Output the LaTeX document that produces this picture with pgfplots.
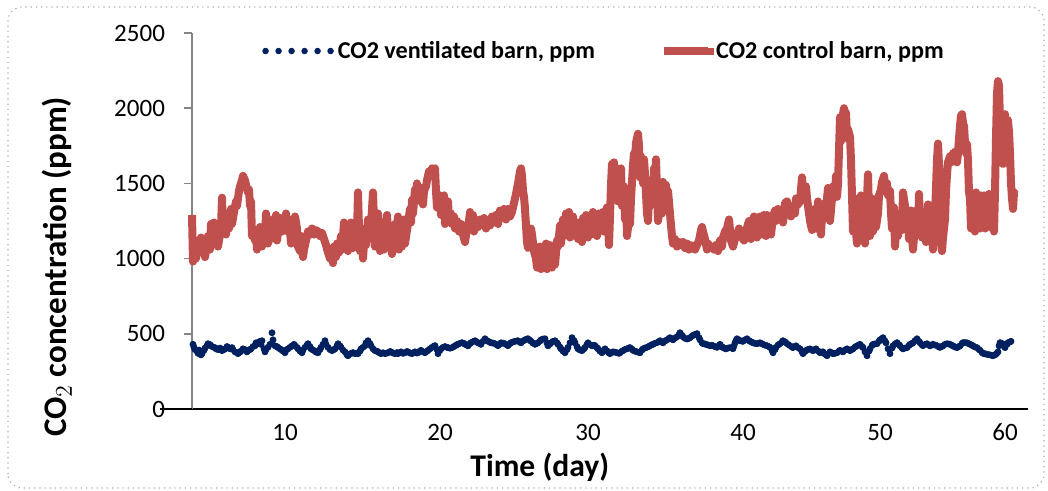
\documentclass[border=0pt]{standalone}
\usepackage{pgfplots}
\pgfplotsset{compat=1.18}
\usepackage{fontspec}
\setmainfont{Carlito}
\definecolor{redc}{RGB}{192,80,77}
\definecolor{bluec}{RGB}{0,32,96}
\definecolor{axgray}{RGB}{134,134,134}

\pgfplotstableread{
x y
193 430
194 410
195 395
197 385
198 370
199 392
200 380
201 360
202 368
204 390
205 405
207 420
208 434
210 428
211 420
213 412
215 408
216 400
218 395
220 405
222 388
224 395
225 400
227 415
228 410
230 400
232 408
233 395
235 380
237 375
238 368
240 378
241 385
243 400
245 395
247 380
248 388
250 395
251 400
253 415
255 420
256 440
258 434
259 445
260 450
261 430
262 454
264 400
265 380
266 395
268 410
270 430
272 507
273 460
275 420
277 415
278 408
280 400
281 395
283 385
285 374
286 392
288 400
290 410
292 420
294 430
295 421
297 410
298 400
300 385
302 374
303 392
305 410
307 425
308 434
310 415
311 400
313 392
315 385
316 378
318 374
320 395
321 410
323 430
325 454
326 430
328 410
330 395
332 388
334 395
335 400
337 420
338 434
340 420
341 410
343 392
345 380
347 360
348 354
350 365
351 370
353 375
355 368
357 372
358 368
360 385
361 400
363 410
365 420
366 440
368 454
370 435
371 420
373 400
375 388
377 384
378 380
380 372
381 368
383 374
385 368
387 372
388 374
390 382
391 380
393 372
395 368
397 375
398 368
400 375
401 380
403 370
405 374
407 382
408 380
410 372
412 368
414 376
415 380
417 372
418 374
420 385
421 390
423 380
425 374
427 384
428 390
430 400
432 410
434 418
435 421
437 395
438 368
440 390
441 400
443 410
445 415
447 410
448 408
450 404
452 408
454 415
455 420
457 428
458 430
460 437
462 441
464 436
465 430
467 425
468 420
470 434
471 441
473 448
475 454
477 445
478 440
480 434
481 430
483 450
485 467
487 455
488 450
490 444
491 440
493 438
495 434
497 426
498 421
500 432
501 440
503 438
505 434
507 425
508 421
510 434
511 441
513 446
515 450
517 452
518 454
520 445
521 440
523 452
525 460
527 465
528 467
530 457
531 450
533 438
535 430
537 436
538 441
540 452
541 460
543 465
545 467
547 438
548 420
550 432
551 440
553 450
555 454
557 440
558 430
560 412
561 400
563 385
565 374
567 395
568 410
570 440
572 474
574 455
575 440
577 415
578 400
580 392
582 388
584 400
585 410
587 430
588 440
590 428
592 420
594 424
595 421
597 408
598 400
600 384
602 374
604 392
605 400
607 386
608 380
609 372
610 368
612 376
613 380
615 378
617 374
619 370
620 374
622 384
623 388
625 396
627 400
629 406
630 408
632 398
633 390
635 384
637 380
639 376
640 374
642 392
643 400
645 406
647 410
649 416
650 421
652 428
653 430
655 437
657 441
659 448
660 454
662 444
663 440
665 452
667 460
669 468
670 474
672 465
673 460
675 472
677 480
679 495
680 507
682 490
683 480
685 470
687 465
689 470
690 474
692 484
693 490
695 496
697 501
699 475
700 460
702 440
703 434
705 432
706 430
708 425
710 421
712 423
713 421
715 414
717 410
719 422
720 430
722 415
723 408
725 402
726 400
728 405
730 408
732 404
733 401
734 420
735 440
736 455
737 467
739 458
740 454
742 451
743 450
745 460
747 467
749 455
750 450
752 444
753 440
755 436
757 434
759 438
760 440
762 434
763 430
765 424
767 421
769 414
770 410
772 390
773 374
775 395
776 410
778 425
780 434
782 446
783 454
785 446
786 440
788 430
790 421
792 412
793 408
795 416
796 420
798 408
800 400
802 380
803 368
805 382
806 390
808 396
810 400
812 392
813 388
815 395
816 400
818 386
820 374
822 378
823 380
825 364
827 354
829 370
830 380
832 372
833 368
835 370
837 374
839 384
840 390
842 384
843 380
845 392
847 400
849 392
850 388
852 396
853 400
855 412
857 420
859 426
860 430
862 416
863 408
865 380
867 354
869 385
870 400
872 422
873 430
875 433
877 434
879 450
880 460
882 468
883 474
885 452
886 440
888 400
890 368
892 405
893 420
895 432
897 441
899 428
900 420
902 406
903 400
905 405
907 408
909 422
910 430
912 436
913 440
915 455
917 467
919 450
920 440
922 426
923 421
925 430
927 434
929 424
930 420
932 426
933 430
935 425
937 421
939 412
940 410
942 416
943 420
945 430
947 434
949 432
950 430
952 423
953 420
955 412
957 408
959 415
960 420
962 435
963 441
965 441
967 440
969 434
970 430
972 424
973 420
975 412
977 408
979 396
980 390
982 376
983 370
985 367
986 365
988 362
990 360
992 356
993 354
995 360
996 365
997 372
998 380
999 420
1000 441
1002 436
1003 430
1004 418
1005 408
1007 430
1008 441
1010 446
1011 450
}\ventilated

\pgfplotstableread{
x y
192 1290
193 980
195 1040
196 1000
198 1120
199 1040
201 1140
202 1060
204 1100
205 1010
207 1090
208 1150
210 1060
211 1230
213 1200
214 1240
216 1100
217 1230
218 1080
220 1160
221 1200
222 1405
223 1170
225 1250
226 1160
228 1300
229 1200
231 1330
232 1230
234 1310
236 1380
237 1350
239 1450
240 1480
242 1520
243 1550
245 1520
246 1490
248 1440
249 1460
250 1350
251 1380
252 1150
253 1200
255 1120
256 1180
257 1060
259 1150
260 1210
262 1080
263 1190
265 1120
266 1300
267 1250
268 1100
270 1220
271 1130
273 1260
274 1200
276 1290
277 1120
279 1240
280 1270
282 1180
283 1260
285 1210
286 1300
288 1180
289 1260
291 1100
292 1180
294 1230
295 1280
297 1200
298 1080
300 1050
301 1150
303 1010
304 1060
306 1120
308 1180
310 1160
312 1200
314 1160
316 1190
318 1180
320 1150
322 1170
324 1130
326 1090
328 1040
330 1000
331 1050
333 970
334 1080
336 1010
337 1100
339 1040
341 1150
342 1060
344 1240
345 1100
347 1200
348 1050
350 1160
351 1240
353 1070
354 1210
356 1100
357 1170
358 1440
359 1200
360 1050
362 1150
363 1000
365 1200
366 1090
368 1260
369 1130
371 1220
373 1440
374 1250
375 1080
377 1180
378 1300
380 1050
381 1170
383 1240
384 1060
386 1180
387 1290
389 1070
390 1200
392 1030
393 1150
395 1230
396 1120
398 1280
399 1060
401 1150
402 1080
404 1260
405 1100
407 1190
408 1230
410 1330
411 1240
412 1390
413 1300
415 1460
416 1380
417 1500
418 1420
420 1390
421 1470
423 1360
424 1450
426 1480
427 1520
429 1580
430 1550
432 1600
433 1570
435 1600
436 1450
437 1340
439 1380
440 1420
441 1290
442 1370
444 1420
445 1230
446 1280
448 1380
449 1250
451 1300
452 1230
454 1280
455 1200
457 1250
459 1180
461 1230
463 1160
465 1110
467 1200
469 1250
470 1310
471 1220
473 1290
474 1180
476 1240
478 1210
480 1260
482 1230
484 1270
486 1200
488 1250
490 1220
492 1280
494 1240
496 1290
498 1230
500 1320
502 1300
504 1330
506 1260
508 1330
510 1280
512 1310
514 1370
516 1430
518 1500
520 1580
521 1600
522 1550
523 1450
524 1410
525 1330
526 1220
527 1110
528 1070
530 1080
531 1200
532 1160
534 1050
536 1000
537 940
539 1020
540 1080
541 930
543 1040
544 950
546 1100
547 930
549 990
550 1090
552 940
554 1030
555 960
557 1120
558 1080
560 1220
561 1100
563 1260
564 1150
566 1300
567 1180
569 1310
570 1140
572 1200
573 1280
575 1150
577 1240
578 1130
580 1210
582 1110
583 1270
585 1180
586 1290
588 1140
589 1270
591 1160
593 1310
594 1200
596 1290
597 1150
599 1300
601 1200
603 1310
604 1180
606 1320
607 1340
609 1090
610 1280
611 1490
612 1630
613 1560
614 1640
616 1480
617 1600
618 1380
619 1520
621 1600
622 1350
624 1480
625 1260
626 1400
627 1150
629 1260
630 1230
631 1400
633 1620
634 1700
635 1640
636 1770
638 1830
639 1750
640 1540
641 1680
643 1500
644 1660
645 1560
647 1300
648 1250
649 1400
650 1350
651 1520
653 1400
654 1600
655 1500
656 1660
657 1450
658 1250
660 1350
661 1450
662 1300
663 1510
665 1400
666 1490
667 1340
668 1450
670 1300
671 1220
672 1150
673 1100
675 1130
677 1080
679 1110
681 1090
683 1110
685 1070
687 1100
689 1060
691 1090
693 1080
695 1060
697 1090
699 1120
701 1190
702 1210
703 1180
705 1130
707 1060
708 1100
710 1070
712 1080
714 1060
716 1090
718 1050
720 1120
722 1080
723 1140
725 1180
727 1200
729 1260
730 1190
731 1120
733 1080
735 1130
737 1150
739 1200
740 1180
742 1140
744 1120
746 1180
748 1230
749 1250
751 1130
752 1200
754 1280
756 1230
757 1140
759 1230
760 1280
762 1160
764 1290
766 1150
767 1290
769 1210
771 1160
773 1280
775 1320
776 1250
778 1330
779 1290
781 1310
783 1240
785 1370
787 1380
788 1300
790 1340
791 1280
793 1350
795 1300
796 1400
798 1360
800 1380
801 1460
802 1540
803 1440
805 1420
806 1480
807 1400
809 1300
810 1250
812 1190
813 1280
815 1330
816 1200
818 1380
819 1250
821 1160
822 1300
823 1260
825 1370
826 1330
828 1470
829 1370
830 1250
832 1400
833 1480
835 1420
836 1550
837 1410
838 1500
840 1940
841 1780
842 1920
844 2000
845 1900
846 1970
847 1800
848 1860
850 1810
851 1650
852 1420
853 1180
854 1350
855 1260
857 1100
858 1400
859 1250
861 1420
862 1160
863 1400
865 1100
866 1350
867 1400
868 1560
869 1300
870 1150
872 1400
873 1180
875 1360
876 1210
878 1300
879 1420
881 1460
882 1510
884 1550
885 1490
887 1500
888 1420
890 1450
891 1300
892 1200
894 1340
895 1080
897 1280
898 1150
900 1300
902 1190
903 1440
905 1350
906 1200
908 1270
909 1130
911 1320
912 1140
913 1060
915 1230
916 1320
918 1160
919 1430
920 1240
922 1140
924 1300
925 1220
926 1110
928 1360
929 1180
930 1250
932 1170
933 1060
935 1300
936 1470
937 1660
938 1765
939 1620
940 1350
941 1120
942 1050
943 1140
945 1260
946 1450
947 1560
948 1640
950 1680
951 1640
953 1700
954 1650
955 1710
957 1640
958 1700
959 1800
960 1880
961 1950
962 1960
963 1900
964 1880
965 1770
966 1700
967 1760
968 1650
969 1440
970 1400
971 1200
972 1430
973 1300
975 1180
976 1440
977 1230
979 1380
980 1200
981 1420
982 1280
984 1420
985 1200
986 1380
988 1300
989 1430
990 1210
992 1400
993 1350
994 1180
995 1450
996 1800
997 2100
998 2180
999 2150
1000 1900
1001 1700
1002 1640
1003 1630
1004 1850
1005 1960
1006 1800
1007 1880
1008 1920
1009 1840
1010 1700
1011 1500
1012 1400
1013 1330
1014 1440
1015 1430
}\control

\begin{document}
\begin{tikzpicture}
\useasboundingbox (0,0) rectangle (524pt,245.5pt);
\draw[axgray!70, dotted, line width=0.6pt, rounded corners=7pt] (4pt,1.5pt) rectangle (522pt,242pt);
\begin{axis}[
  at={(96pt,41pt)}, anchor=south west,
  scale only axis, width=418pt, height=188pt,
  xmin=192, xmax=1028, ymin=0, ymax=2500,
  axis x line*=bottom, axis y line*=left,
  x axis line style={black, line width=1.2pt, -},
  y axis line style={axgray, line width=0.8pt, -},
  xtick={285,440,588,743,880,1005},
  xticklabels={10,20,30,40,50,60},
  x tick style={draw=none},
  ytick={0,500,1000,1500,2000,2500},
  y tick style={axgray, line width=0.8pt},
  tick align=outside, major tick length=4pt,
  /pgf/number format/assume math mode=true,
  scaled y ticks=false,
  yticklabel style={/pgf/number format/1000 sep={}, xshift=-6pt},
  tick label style={font=\fontsize{12.5}{14}\selectfont},
  clip=false,
  xlabel={Time (day)},
  xlabel style={font=\bfseries\fontsize{15.8}{18}\selectfont, at={(axis description cs:0.416,-0.154)}, anchor=center},
  ylabel={CO$_2$ concentration (ppm)},
  ylabel style={font=\bfseries\fontsize{16.5}{18}\selectfont, at={(axis description cs:-0.1615,0.378)}, anchor=center},
  legend columns=2,
  legend style={draw=none, fill=none, inner sep=0pt,
    at={(axis description cs:0.0837,0.952)}, anchor=west,
    font=\bfseries\fontsize{12.1}{14}\selectfont,
    /tikz/every even column/.append style={column sep=30.5pt}},
]
\addplot[only marks, mark=*, mark size=1.5pt, color=bluec,
  legend image code/.code={\foreach \k in {0,...,5}{\fill[bluec] (\k*6.5pt,0pt) circle (1.4pt);}}]
  table[x=x,y=y]{\ventilated};
\addlegendentry{CO2 ventilated barn, ppm}
\addplot[color=redc, line width=4pt, line join=round, mark=none,
  legend image code/.code={\path (0pt,0pt) -- (22pt,0pt); \draw[overlay, redc, line width=3.5pt] (0pt,0pt) -- (25pt,0pt);}]
  table[x=x,y=y]{\control};
\addlegendentry{CO2 control barn, ppm}
\draw[black, line width=1.2pt] (axis cs:160,0) -- (axis cs:192,0);
\end{axis}
\end{tikzpicture}
\end{document}
